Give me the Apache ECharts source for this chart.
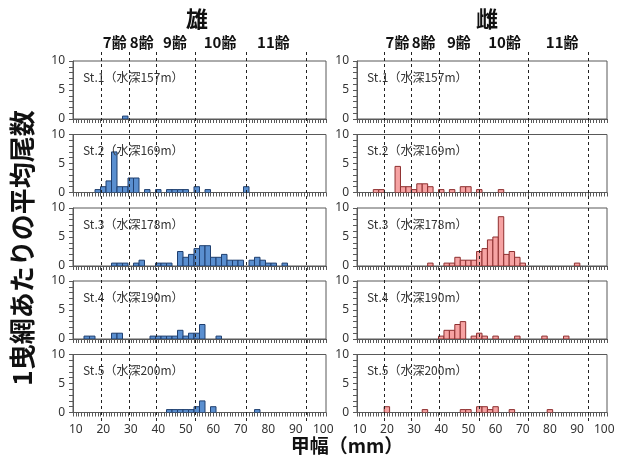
<!DOCTYPE html>
<html>
<head>
<meta charset="utf-8">
<script src="https://cdn.jsdelivr.net/npm/echarts@6/dist/echarts.min.js"></script>
<style>
  html, body { margin: 0; padding: 0; background: #fff; }
  #main { width: 618px; height: 457px; }
</style>
</head>
<body>
<div id="main"></div>
<script>
// 甲幅階級（2mm幅、中央値）と平均尾数
const maleSt1 = [[28, 0.5]]
const maleSt2 = [[18, 0.5], [20, 1], [22, 2], [24, 7], [26, 1], [28, 1], [30, 2.5], [32, 2.5], [36, 0.5], [40, 0.5],
  [44, 0.5], [46, 0.5], [48, 0.5], [50, 0.5], [54, 1], [58, 0.5], [72, 1]]
const maleSt3 = [[24, 0.5], [26, 0.5], [28, 0.5], [32, 0.5], [34, 1], [40, 0.5], [42, 0.5], [44, 0.5],
  [48, 2.5], [50, 1.5], [52, 2], [54, 3], [56, 3.5], [58, 3.5], [60, 1.5], [62, 1.5], [64, 2], [66, 1], [68, 1], [70, 1],
  [74, 1], [76, 1.5], [78, 1], [80, 0.5], [82, 0.5], [86, 0.5]]
const maleSt4 = [[14, 0.5], [16, 0.5], [24, 1], [26, 1], [38, 0.5], [40, 0.5], [42, 0.5], [44, 0.5], [46, 0.5],
  [48, 1.5], [50, 0.5], [52, 1], [54, 1], [56, 2.5], [62, 0.5]]
const maleSt5 = [[44, 0.5], [46, 0.5], [48, 0.5], [50, 0.5], [52, 0.5], [54, 1], [56, 2], [60, 1], [76, 0.5]]

const femaleSt1 = []
const femaleSt2 = [[16, 0.5], [18, 0.5], [24, 4.5], [26, 1], [28, 1], [30, 0.5], [32, 1.5], [34, 1.5], [36, 1],
  [40, 0.5], [44, 0.5], [48, 1], [50, 1], [54, 0.5], [62, 0.5]]
const femaleSt3 = [[36, 0.5], [42, 0.5], [44, 0.5], [46, 1.5], [48, 1], [50, 1], [52, 1], [54, 2.5], [56, 3],
  [58, 4.5], [60, 5], [62, 8.5], [64, 2], [66, 2.5], [68, 1.5], [70, 0.5], [90, 0.5]]
const femaleSt4 = [[40, 0.5], [42, 1.5], [44, 1.5], [46, 2.5], [48, 3], [52, 0.5], [54, 1], [56, 0.5], [60, 0.5],
  [68, 0.5], [78, 0.5], [86, 0.5]]
const femaleSt5 = [[20, 1], [34, 0.5], [48, 0.5], [50, 0.5], [54, 1], [56, 1], [58, 0.5], [60, 1], [66, 0.5], [80, 0.5]]

const stations = ['St.1（水深157m）', 'St.2（水深169m）', 'St.3（水深178m）', 'St.4（水深190m）', 'St.5（水深200m）']
const maleData = [maleSt1, maleSt2, maleSt3, maleSt4, maleSt5]
const femaleData = [femaleSt1, femaleSt2, femaleSt3, femaleSt4, femaleSt5]

// 齢の境界（破線）と齢ラベル位置
const ageNames = ['7齢', '8齢', '9齢', '10齢', '11齢']
const maleBounds = [19.1, 29.2, 39.2, 53.4, 71.8, 93.6]
const femaleBounds = [19, 29, 39, 53.9, 72, 93.9]
const maleAgePos = [24.2, 34, 46.1, 62.5, 81.9]
const femaleAgePos = [23.9, 33.5, 46.5, 63.3, 84.5]

const xLabels = [10, 20, 30, 40, 50, 60, 70, 80, 90, 100]
const yLabels = [0, 5, 10]
const BIN = 2
const X_MIN = 9
const X_MAX = 101

const chart = echarts.init(document.getElementById('main'))

const colLeft = [73, 357]
const colWidth = [253, 250]
const rowTop = [61, 134.5, 208, 281, 354.5]
const rowH = 58
const colors = [
  { fill: '#5a8fd0', stroke: '#1f3f6f' },
  { fill: '#f6a3a3', stroke: '#8e2f2f' }
]
const numFont = 'Noto Sans'
const jpFont = 'Noto Sans CJK JP'

const minorTicks = []
for (let v = X_MIN; v <= X_MAX; v++) minorTicks.push(v)
const yTicks = []
for (let v = 0; v <= 10; v++) yTicks.push(v)

const grid = [], xAxis = [], yAxis = [], series = [], title = []

const barRender = (col) => (params, api) => {
  const c = api.value(0), v = api.value(1)
  const p0 = api.coord([c - BIN / 2, v])
  const p1 = api.coord([c + BIN / 2, 0])
  return {
    type: 'rect',
    shape: { x: p0[0], y: p0[1], width: p1[0] - p0[0], height: p1[1] - p0[1] },
    style: { fill: colors[col].fill, stroke: colors[col].stroke, lineWidth: 1 }
  }
}

;[maleData, femaleData].forEach((colData, col) => {
  colData.forEach((data, row) => {
    const idx = grid.length
    grid.push({
      left: colLeft[col], width: colWidth[col], top: rowTop[row], height: rowH,
      show: true, borderColor: '#595959', borderWidth: 1, backgroundColor: 'transparent'
    })
    xAxis.push({
      type: 'value', gridIndex: idx, min: X_MIN, max: X_MAX,
      splitLine: { show: false },
      axisLine: { show: true, lineStyle: { color: '#595959' } },
      axisTick: { show: true, customValues: minorTicks, length: 4, lineStyle: { color: '#595959' } },
      axisLabel: {
        show: row === 4, customValues: xLabels, color: '#333', fontSize: 12, fontFamily: numFont, margin: 11
      }
    })
    yAxis.push({
      type: 'value', gridIndex: idx, min: 0, max: 10,
      splitLine: { show: false },
      axisLine: { show: true, lineStyle: { color: '#595959' } },
      axisTick: { show: true, customValues: yTicks, length: 4, lineStyle: { color: '#595959' } },
      axisLabel: { customValues: yLabels, color: '#333', fontSize: 12, fontFamily: numFont, margin: 8 }
    })
    series.push({
      type: 'custom', xAxisIndex: idx, yAxisIndex: idx,
      renderItem: barRender(col), encode: { x: 0, y: 1 }, data: data, clip: true
    })
    title.push({
      text: stations[row], left: colLeft[col] + 5, top: rowTop[row] + 5,
      textStyle: { fontSize: 12, fontWeight: 'normal', color: '#333', fontFamily: jpFont }
    })
  })
})

// 破線と齢ラベル用の縦長グリッド
;[[maleBounds, maleAgePos], [femaleBounds, femaleAgePos]].forEach(([bounds, agePos], col) => {
  const idx = grid.length
  grid.push({ left: colLeft[col], width: colWidth[col], top: 52, bottom: 36 })
  xAxis.push({
    type: 'value', gridIndex: idx, min: X_MIN, max: X_MAX, position: 'top',
    splitLine: { show: false }, axisLine: { show: false }, axisTick: { show: false },
    axisLabel: {
      customValues: agePos, margin: 2, color: '#111', fontSize: 15, fontWeight: 'bold', fontFamily: jpFont,
      formatter: (v) => {
        const i = agePos.findIndex(p => Math.abs(p - v) < 1e-6)
        return i >= 0 ? ageNames[i] : ''
      }
    }
  })
  yAxis.push({ type: 'value', gridIndex: idx, min: 0, max: 1, show: false })
  series.push({
    type: 'custom', xAxisIndex: idx, yAxisIndex: idx, z: 10, silent: true,
    encode: { x: 0, y: 1 },
    data: bounds.map(b => [b, 0]),
    renderItem: (params, api) => {
      const p0 = api.coord([api.value(0), 0])
      const p1 = api.coord([api.value(0), 1])
      const x = Math.round(p0[0]) + 0.5
      return {
        type: 'line',
        shape: { x1: x, y1: p0[1], x2: x, y2: p1[1] },
        style: { stroke: '#222', lineWidth: 1, lineDash: [3, 3] }
      }
    }
  })
})

const option = {
  animation: false,
  title: title,
  grid: grid,
  xAxis: xAxis,
  yAxis: yAxis,
  series: series,
  graphic: [
    { type: 'text', x: 197, y: 19, style: { text: '雄', fontSize: 22, fontWeight: 'bold', fill: '#111', fontFamily: jpFont, align: 'center', verticalAlign: 'middle' } },
    { type: 'text', x: 487, y: 19, style: { text: '雌', fontSize: 22, fontWeight: 'bold', fill: '#111', fontFamily: jpFont, align: 'center', verticalAlign: 'middle' } },
    { type: 'text', x: 22, y: 248, rotation: Math.PI / 2, style: { text: '1曳網あたりの平均尾数', fontSize: 26, fontWeight: 'bold', fill: '#111', fontFamily: jpFont, align: 'center', verticalAlign: 'middle' } },
    { type: 'text', x: 347, y: 446, style: { text: '甲幅（mm）', fontSize: 19, fontWeight: 'bold', fill: '#111', fontFamily: jpFont, align: 'center', verticalAlign: 'middle' } }
  ]
}
chart.setOption(option)
</script>
</body>
</html>
